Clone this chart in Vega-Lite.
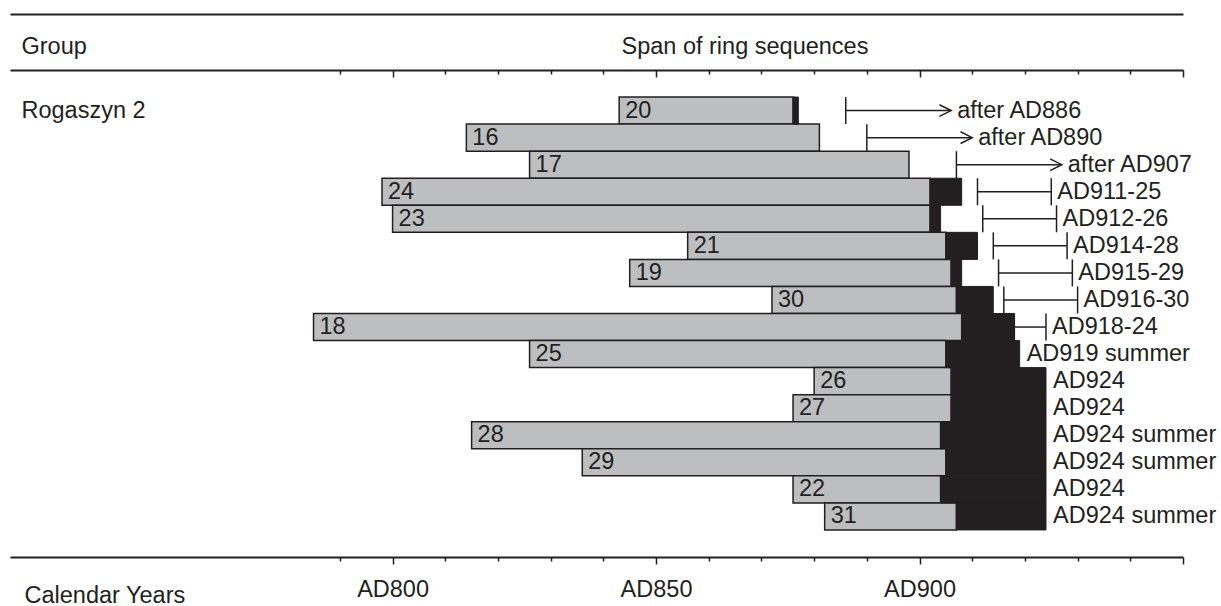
{
  "$schema": "https://vega.github.io/schema/vega-lite/v6.json",
  "width": 1173,
  "height": 487,
  "autosize": {"type": "none"},
  "padding": {"left": 10, "top": 70, "right": 38, "bottom": 49},
  "background": "white",
  "config": {
    "view": {"stroke": null},
    "font": "Liberation Sans",
    "text": {"font": "Liberation Sans", "fontSize": 23.5, "color": "#231f20"},
    "axis": {"labelFont": "Liberation Sans", "titleFont": "Liberation Sans", "grid": false}
  },
  "data": {
    "values": [
      {"id": "20", "start": 843, "heartEnd": 876, "sapEnd": 877, "from": 886, "to": 906, "kind": "after", "label": "after AD886"},
      {"id": "16", "start": 814, "heartEnd": 881, "sapEnd": 881, "from": 890, "to": 910, "kind": "after", "label": "after AD890"},
      {"id": "17", "start": 826, "heartEnd": 898, "sapEnd": 898, "from": 907, "to": 927, "kind": "after", "label": "after AD907"},
      {"id": "24", "start": 798, "heartEnd": 902, "sapEnd": 908, "from": 911, "to": 925, "kind": "range", "label": "AD911-25"},
      {"id": "23", "start": 800, "heartEnd": 902, "sapEnd": 904, "from": 912, "to": 926, "kind": "range", "label": "AD912-26"},
      {"id": "21", "start": 856, "heartEnd": 905, "sapEnd": 911, "from": 914, "to": 928, "kind": "range", "label": "AD914-28"},
      {"id": "19", "start": 845, "heartEnd": 906, "sapEnd": 908, "from": 915, "to": 929, "kind": "range", "label": "AD915-29"},
      {"id": "30", "start": 872, "heartEnd": 907, "sapEnd": 914, "from": 916, "to": 930, "kind": "range", "label": "AD916-30"},
      {"id": "18", "start": 785, "heartEnd": 908, "sapEnd": 918, "from": 918, "to": 924, "kind": "range", "label": "AD918-24"},
      {"id": "25", "start": 826, "heartEnd": 905, "sapEnd": 919, "from": null, "to": null, "kind": "none", "label": "AD919 summer"},
      {"id": "26", "start": 880, "heartEnd": 906, "sapEnd": 924, "from": null, "to": null, "kind": "none", "label": "AD924"},
      {"id": "27", "start": 876, "heartEnd": 906, "sapEnd": 924, "from": null, "to": null, "kind": "none", "label": "AD924"},
      {"id": "28", "start": 815, "heartEnd": 904, "sapEnd": 924, "from": null, "to": null, "kind": "none", "label": "AD924 summer"},
      {"id": "29", "start": 836, "heartEnd": 905, "sapEnd": 924, "from": null, "to": null, "kind": "none", "label": "AD924 summer"},
      {"id": "22", "start": 876, "heartEnd": 904, "sapEnd": 924, "from": null, "to": null, "kind": "none", "label": "AD924"},
      {"id": "31", "start": 882, "heartEnd": 907, "sapEnd": 924, "from": null, "to": null, "kind": "none", "label": "AD924 summer"}
    ]
  },
  "encoding": {
    "y": {
      "field": "id",
      "type": "nominal",
      "scale": {
        "type": "band",
        "domain": ["20", "16", "17", "24", "23", "21", "19", "30", "18", "25", "26", "27", "28", "29", "22", "31"],
        "paddingInner": 0,
        "paddingOuter": 1
      },
      "axis": {
        "title": "Group",
        "titleX": 11,
        "titleY": -24,
        "titleAngle": 0,
        "titleAlign": "left",
        "titleBaseline": "middle",
        "titleFontSize": 23.5,
        "titleFontWeight": "normal",
        "titleColor": "#231f20",
        "domain": false,
        "ticks": false,
        "tickSize": 0,
        "labelExpr": "datum.value === '20' ? 'Rogaszyn 2' : ''",
        "labelAlign": "left",
        "labelBaseline": "middle",
        "labelPadding": -11,
        "labelFontSize": 23.5,
        "labelColor": "#231f20",
        "labelOverlap": false,
        "labelLimit": 0
      }
    }
  },
  "layer": [
    {
      "mark": {"type": "bar", "fill": "#bcbec0", "stroke": "#231f20", "strokeWidth": 1.5},
      "encoding": {
        "x": {
          "field": "start",
          "type": "quantitative",
          "scale": {"domain": [727.4, 950], "nice": false, "zero": false},
          "axis": {
            "orient": "bottom",
            "values": [790, 800, 810, 820, 830, 840, 850, 860, 870, 880, 890, 900, 910, 920, 930, 940, 950],
            "tickSize": {"condition": {"test": "datum.value % 50 === 0", "value": 7}, "value": 4},
            "tickWidth": 1.5,
            "tickColor": "#231f20",
            "domainColor": "#231f20",
            "domainWidth": 2,
            "labelExpr": "datum.value % 50 === 0 && datum.value < 950 ? 'AD' + datum.value : ''",
            "labelFontSize": 23.5,
            "labelColor": "#231f20",
            "labelBaseline": "alphabetic",
            "labelPadding": 32,
            "labelFlush": false,
            "labelOverlap": false,
            "title": "Calendar Years",
            "titleX": 14,
            "titleY": 45,
            "titleAlign": "left",
            "titleBaseline": "alphabetic",
            "titleFontSize": 23.5,
            "titleFontWeight": "normal",
            "titleColor": "#231f20"
          }
        },
        "x2": {"field": "heartEnd"}
      }
    },
    {
      "transform": [{"filter": "datum.sapEnd > datum.heartEnd"}],
      "mark": {"type": "bar", "fill": "#231f20", "stroke": "#231f20", "strokeWidth": 1},
      "encoding": {
        "x": {
          "field": "heartEnd",
          "type": "quantitative",
          "scale": {"domain": [727.4, 950], "nice": false, "zero": false},
          "axis": {
            "orient": "top",
            "values": [790, 800, 810, 820, 830, 840, 850, 860, 870, 880, 890, 900, 910, 920, 930, 940, 950],
            "tickSize": {"condition": {"test": "datum.value % 50 === 0", "value": -7}, "value": -4},
            "tickWidth": 1.5,
            "tickColor": "#231f20",
            "domainColor": "#231f20",
            "domainWidth": 2,
            "labels": false,
            "title": "Span of ring sequences",
            "titleX": 611,
            "titleY": -24,
            "titleAlign": "left",
            "titleBaseline": "middle",
            "titleFontSize": 23.5,
            "titleFontWeight": "normal",
            "titleColor": "#231f20"
          }
        },
        "x2": {"field": "sapEnd"}
      }
    },
    {
      "mark": {"type": "text", "align": "left", "baseline": "middle", "dx": 6, "fontSize": 23.5, "color": "#231f20"},
      "encoding": {
        "x": {
          "field": "start",
          "type": "quantitative",
          "scale": {"domain": [727.4, 950], "nice": false, "zero": false},
          "axis": {
            "orient": "top",
            "offset": 56,
            "ticks": false,
            "labels": false,
            "title": null,
            "domainColor": "#231f20",
            "domainWidth": 2
          }
        },
        "text": {"field": "id"}
      }
    },
    {
      "transform": [{"filter": "datum.kind !== 'none'"}],
      "mark": {"type": "rule", "stroke": "#231f20", "strokeWidth": 1.5},
      "encoding": {
        "x": {"field": "from", "type": "quantitative", "axis": null},
        "x2": {"field": "to"}
      }
    },
    {
      "transform": [{"filter": "datum.kind !== 'none'"}],
      "mark": {"type": "tick", "orient": "vertical", "size": 27, "thickness": 1.5, "color": "#231f20", "opacity": 1},
      "encoding": {
        "x": {"field": "from", "type": "quantitative", "axis": null}
      }
    },
    {
      "transform": [{"filter": "datum.kind === 'range'"}],
      "mark": {"type": "tick", "orient": "vertical", "size": 27, "thickness": 1.5, "color": "#231f20", "opacity": 1},
      "encoding": {
        "x": {"field": "to", "type": "quantitative", "axis": null}
      }
    },
    {
      "transform": [{"filter": "datum.kind === 'after'"}],
      "mark": {"type": "point", "shape": "M-1,-0.5L0,0L-1,0.5", "size": 548, "filled": false, "stroke": "#231f20", "strokeWidth": 1.5, "opacity": 1},
      "encoding": {
        "x": {"field": "to", "type": "quantitative", "axis": null}
      }
    },
    {
      "transform": [{"filter": "datum.kind !== 'none'"}],
      "mark": {"type": "text", "align": "left", "baseline": "middle", "dx": 6, "fontSize": 23.5, "color": "#231f20"},
      "encoding": {
        "x": {"field": "to", "type": "quantitative", "axis": null},
        "text": {"field": "label"}
      }
    },
    {
      "transform": [{"filter": "datum.kind === 'none'"}],
      "mark": {"type": "text", "align": "left", "baseline": "middle", "dx": 7, "fontSize": 23.5, "color": "#231f20"},
      "encoding": {
        "x": {"field": "sapEnd", "type": "quantitative", "axis": null},
        "text": {"field": "label"}
      }
    }
  ],
  "resolve": {"axis": {"x": "independent"}}
}
